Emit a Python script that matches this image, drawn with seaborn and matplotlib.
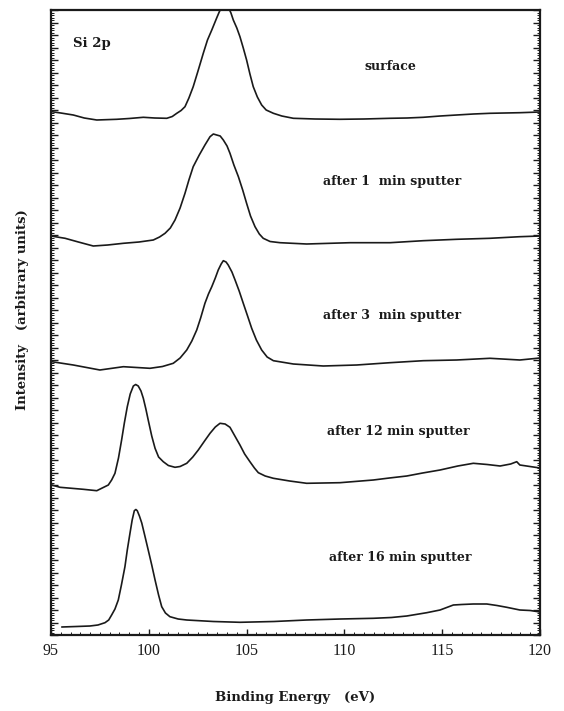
import numpy as np
import pandas as pd
import matplotlib
matplotlib.use("Agg")
import matplotlib.pyplot as plt
from matplotlib.ticker import MultipleLocator
import seaborn as sns

# ---- data (binding energy in eV, intensity in arbitrary units) ----
samples = ["surface", "after 1  min sputter", "after 3  min sputter",
           "after 12 min sputter", "after 16 min sputter"]

e_surface = [95.04, 95.5, 96.14, 96.7, 97.34, 98.36, 99.0, 99.72, 100.3, 100.92,
             101.2, 101.43, 101.65, 101.85, 102.05, 102.27, 102.5, 102.79, 103.0, 103.22,
             103.47, 103.6, 103.73, 104.06, 104.2, 104.32, 104.5, 104.66, 104.83, 105.0,
             105.17, 105.34, 105.55, 105.77, 106.0, 106.37, 106.8, 107.39, 108.5, 109.77,
             111.0, 112.33, 113.2, 114.03, 114.9, 115.74, 116.6, 117.44, 118.2, 118.97, 120.0]
i_surface = [523.3, 522, 520, 517, 515, 515.7, 516.5, 517.7, 517, 516.7,
             518.5, 521.7, 524.5, 528.3, 537, 548.3, 563, 582, 595, 605,
             617, 623, 628, 628, 622, 615, 607, 598.3, 587, 575,
             561, 548.3, 538, 530, 525, 521.7, 519, 516.7, 516, 515.7,
             516, 516.7, 517, 517.7, 519, 520, 521, 521.7, 522, 522.3, 523]

e_1min = [95.0, 95.72, 96.4, 97.16, 97.9, 98.70, 99.5, 100.23, 100.55, 100.83,
          101.1, 101.34, 101.6, 101.85, 102.05, 102.27, 102.58, 102.87, 103.13, 103.3,
          103.47, 103.65, 103.81, 104.0, 104.15, 104.35, 104.58, 104.8, 105.0, 105.2,
          105.43, 105.65, 105.85, 106.2, 106.71, 108.07, 110.29, 112.33, 114.03, 115.74,
          117.44, 118.97, 120.0]
i_1min = [399, 396.7, 393, 389, 390, 391.7, 393, 395, 398, 401.7,
          407, 415, 427, 441.7, 455, 468.3, 480, 490, 498.3, 501,
          500, 499, 495, 489, 481.7, 470, 458.3, 445, 431.7, 419,
          408.3, 401, 396.7, 393.5, 392.3, 391, 392.3, 392.3, 394.3, 395.7,
          396.7, 398.3, 399]

e_3min = [95.04, 96.14, 97.5, 98.70, 100.06, 100.7, 101.25, 101.6, 101.94, 102.2,
          102.45, 102.65, 102.87, 103.05, 103.22, 103.4, 103.55, 103.7, 103.81, 103.95,
          104.06, 104.25, 104.41, 104.62, 104.83, 105.05, 105.26, 105.5, 105.77, 106.05,
          106.37, 107.39, 108.92, 110.63, 112.33, 114.03, 115.74, 117.44, 118.97, 120.0]
i_3min = [273.3, 270, 265, 268.3, 266.7, 268.5, 271.7, 277, 285, 294,
          305, 317, 331.7, 341, 348.3, 357, 365, 371, 374.3, 373,
          370, 363, 355, 344, 331.7, 319, 306.7, 295, 285, 278,
          274.3, 271, 269, 270, 272.3, 274.3, 275, 276.7, 275, 277]

e_12min = [95.04, 95.46, 96.65, 97.34, 97.93, 98.1, 98.27, 98.45, 98.61, 98.75,
           98.90, 99.05, 99.21, 99.33, 99.46, 99.6, 99.72, 99.85, 99.97, 100.15,
           100.32, 100.5, 100.74, 101.0, 101.34, 101.6, 101.94, 102.25, 102.53, 102.85,
           103.13, 103.4, 103.64, 103.9, 104.15, 104.4, 104.66, 104.9, 105.17, 105.4,
           105.6, 105.95, 106.37, 107.2, 108.07, 109.77, 111.48, 112.3, 113.19, 114.0,
           114.89, 115.8, 116.59, 117.3, 117.96, 118.5, 118.81, 118.97, 120.0]
i_12min = [150, 147.7, 145.7, 144.3, 150, 155, 161.7, 177, 195, 212,
           228.3, 241, 249, 250.5, 249, 244, 236.7, 226, 215, 199,
           186.7, 178, 173.3, 169.5, 167.7, 168.5, 171.7, 178, 185, 194,
           201.7, 208, 211.7, 211, 207.7, 199, 190, 181, 173.3, 167,
           162.3, 159, 156.7, 154, 151.7, 152.3, 155, 157, 159, 162,
           165, 169, 171.7, 170.5, 169, 171, 173.3, 170, 167]

e_16min = [95.55, 96.3, 96.99, 97.4, 97.76, 97.95, 98.10, 98.27, 98.44, 98.6,
           98.78, 98.9, 99.04, 99.15, 99.26, 99.34, 99.41, 99.52, 99.64, 99.8,
           99.97, 100.15, 100.32, 100.5, 100.66, 100.85, 101.08, 101.5, 101.94, 103.3,
           104.66, 106.4, 108.07, 109.8, 111.48, 112.4, 113.19, 114.21, 114.89, 115.57,
           116.0, 116.59, 117.28, 117.8, 118.30, 118.97, 119.5, 120.0]
i_16min = [8, 8.5, 9, 10, 12.3, 15, 20, 26, 35, 50,
           68.3, 85, 102, 115, 124.3, 125.5, 124.3, 119, 112, 99,
           85, 70, 55, 40, 28.3, 22, 18.3, 16, 15, 13.5,
           12.7, 13.5, 15, 16, 16.7, 17.5, 19, 22.3, 25, 30,
           30.5, 31, 31, 29.5, 27.7, 25, 24.5, 23]

label_e = [111.05, 108.9, 108.9, 109.1, 109.2]
label_i = [568, 453, 320, 203, 77]
x_ticks = [95, 100, 105, 110, 115, 120]

energies = [e_surface, e_1min, e_3min, e_12min, e_16min]
intens = [i_surface, i_1min, i_3min, i_12min, i_16min]
frames = [pd.DataFrame({"E": e, "I": i, "sample": s})
          for s, e, i in zip(samples, energies, intens)]
df = pd.concat(frames, ignore_index=True)

# ---- plot ----
sns.set_theme(style="ticks")
plt.rcParams["font.family"] = ["DejaVu Serif", "DejaVu Sans"]

fig = plt.figure(figsize=(5.64, 7.11), dpi=100)
ax = fig.add_axes([51 / 564, 1 - 635 / 711, (540 - 51) / 564, (635 - 10) / 711])

sns.lineplot(data=df, x="E", y="I", hue="sample", units="sample", estimator=None,
             sort=False, palette=["#1a1a1a"] * len(samples), legend=False,
             linewidth=1.2, ax=ax)

ax.set_xlim(95, 120)
ax.set_ylim(0, 625)
ax.set_xticks(x_ticks)
ax.set_xticklabels([str(t) for t in x_ticks], family="Liberation Serif", fontsize=11.5)
ax.xaxis.set_minor_locator(MultipleLocator(0.5))
ax.yaxis.set_major_locator(MultipleLocator(12.5))
ax.yaxis.set_minor_locator(MultipleLocator(2.5))
ax.tick_params(axis="y", which="both", direction="in", left=True, right=True,
               labelleft=False, labelright=False, color="#1a1a1a")
ax.tick_params(axis="y", which="major", length=5, width=1.0)
ax.tick_params(axis="y", which="minor", length=2, width=0.7)
ax.tick_params(axis="x", which="major", direction="in", length=4, width=1.0,
               pad=6, colors="#1a1a1a")
ax.tick_params(axis="x", which="minor", direction="in", length=2, width=0.7,
               color="#1a1a1a")
for sp in ax.spines.values():
    sp.set_visible(True)
    sp.set_linewidth(1.6)
    sp.set_color("#1a1a1a")

ax.set_xlabel("Binding Energy   (eV)", fontsize=9.5, fontweight="bold",
              color="#1a1a1a", labelpad=23)
ax.set_ylabel("Intensity   (arbitrary units)", fontsize=9.5, fontweight="bold",
              color="#1a1a1a")
ax.yaxis.set_label_coords(-0.045, 0.52)

ax.text(96.12, 592, "Si 2p", fontsize=9.5, fontweight="bold", color="#1a1a1a",
        va="center", ha="left")
for s, ex, iy in zip(samples, label_e, label_i):
    ax.text(ex, iy, s, fontsize=9, fontweight="bold", color="#1a1a1a",
            va="center", ha="left")

fig.savefig("out.png", dpi=100)
